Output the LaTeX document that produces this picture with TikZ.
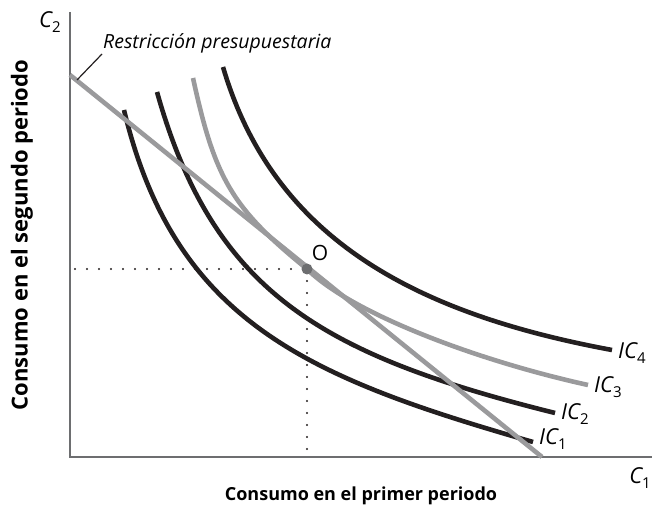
\documentclass[tikz,border=0pt]{standalone}
\usepackage{fontspec}
\setmainfont{Open Sans}
\usetikzlibrary{positioning}
\definecolor{Ink}{HTML}{231F20}
\definecolor{Budget}{HTML}{9A9A9C}
\definecolor{AxisGray}{HTML}{6D6E70}
\tikzset{
  axisline/.style={line width=1.6pt, draw=AxisGray},
  curve/.style={line width=4.6pt, draw=Ink},
  graycurve/.style={line width=4.6pt, draw=Budget},
  guide/.style={line width=2.4pt, draw=Ink, dash pattern=on 0pt off 12pt, line cap=round},
  axislabel/.style={font=\fontsize{18}{20}\selectfont\bfseries},
  curvelabel/.style={font=\fontsize{22}{24}\selectfont\itshape, inner sep=1pt}
}
\newcommand{\lowsub}[1]{\raisebox{-0.45ex}{\upshape\fontsize{15}{15}\selectfont #1}}
\newcommand{\curvename}[1]{IC\lowsub{#1}}

\begin{document}
\begin{tikzpicture}[x=1pt,y=1pt]
    \useasboundingbox (0,0) rectangle (652,513);
    % ejes
    \coordinate (orig) at (70,56);
    \coordinate (ytop) at (70,501);
    \coordinate (xend) at (652,56);
    \draw[axisline] (ytop) -- (orig) -- (xend);
    \node[curvelabel] (c2) at (50,491) {C\lowsub{2}};
    \node[curvelabel] (c1) at (640,35) {C\lowsub{1}};
    \node[axislabel] (xlab) at (361,17) {Consumo en el primer periodo};
    \node[axislabel,font=\fontsize{22}{24}\selectfont\bfseries,rotate=90] (ylab) at (22,278)
      {Consumo en el segundo periodo};
    % punto optimo
    \coordinate (opt) at (307,244);
    \coordinate (optx) at (75,244);
    \coordinate (opty) at (307,63);
    \draw[guide] (optx) -- (opt);
    \draw[guide] (opt) -- (opty);
    % curvas de indiferencia
    \draw[curve] (124,403) .. controls (175,190) and (310,135) .. (533,71) coordinate (ic1end);
    \draw[curve] (157,421) .. controls (214,218) and (325,157.5) .. (555,100) coordinate (ic2end);
    \draw[graycurve] (193,435) .. controls (215,333.8) and (232,305) .. (opt)
      .. controls (351.7,199.3) and (478,152.2) .. (588,128) coordinate (ic3end);
    \draw[curve] (223,446) .. controls (273,276) and (412,200) .. (612,163) coordinate (ic4end);
    \node[curvelabel,right=5pt of ic1end,yshift=3pt] (ic1) {\curvename{1}};
    \node[curvelabel,right=5pt of ic2end,yshift=-1pt] (ic2) {\curvename{2}};
    \node[curvelabel,right=5pt of ic3end,yshift=-2pt] (ic3) {\curvename{3}};
    \node[curvelabel,right=5pt of ic4end,yshift=-3pt] (ic4) {\curvename{4}};
    % restriccion presupuestaria
    \coordinate (bstart) at (70,438);
    \coordinate (bend) at (542,56);
    \draw[graycurve] (bstart) -- (bend);
    \node[anchor=west,font=\fontsize{19.5}{21}\selectfont\itshape,inner sep=1pt] (blab) at (102,470)
      {Restricción presupuestaria};
    \coordinate (blead) at (77,433);
    \draw[line width=1.2pt, draw=Ink] (blead) -- (blab.south west);
    \fill[AxisGray] (opt) circle (5.5);
    \node[font=\fontsize{21}{22}\selectfont] (olab) at (320,260) {O};
  \end{tikzpicture}
\end{document}
